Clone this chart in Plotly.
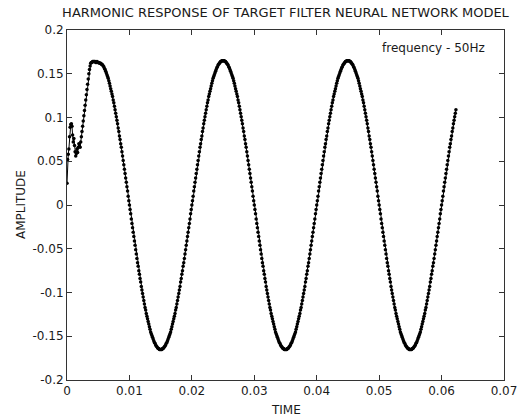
import plotly.graph_objects as go

# Sampling interval of the recorded response (seconds)
sample_interval = 1e-4

# Start-up transient of the network output (first 6.1 ms)
onset = [
    0.025, 0.052, 0.058, 0.064, 0.078, 0.089, 0.092, 0.093, 0.090, 0.080,
    0.072, 0.076, 0.068, 0.061, 0.056, 0.059, 0.064, 0.060, 0.066, 0.070,
    0.067, 0.066, 0.072, 0.078, 0.084, 0.090, 0.096, 0.102, 0.108, 0.114,
    0.120, 0.126, 0.132, 0.138, 0.144, 0.150, 0.155, 0.159, 0.162, 0.163,
    0.163, 0.164, 0.164, 0.164, 0.164, 0.164, 0.163, 0.163, 0.164, 0.163,
    0.163, 0.163, 0.162, 0.162, 0.162, 0.161, 0.161, 0.160, 0.159, 0.158,
    0.156,
]

# Steady-state 50 Hz output after the transient
steady = [
    # 6.1 ms - 10 ms
    0.155, 0.153, 0.151, 0.149, 0.147, 0.145, 0.142, 0.139, 0.136, 0.133,
    0.130, 0.127, 0.124, 0.120, 0.117, 0.113, 0.109, 0.105, 0.101, 0.097,
    0.093, 0.088, 0.084, 0.079, 0.075, 0.070, 0.066, 0.061, 0.056, 0.051,
    0.046, 0.041, 0.036, 0.031, 0.026, 0.021, 0.016, 0.010, 0.005, 0.000,
    # 10 ms - 20 ms
    -0.005, -0.010, -0.016, -0.021, -0.026, -0.031, -0.036, -0.041, -0.046, -0.051,
    -0.056, -0.061, -0.066, -0.070, -0.075, -0.079, -0.084, -0.088, -0.093, -0.097,
    -0.101, -0.105, -0.109, -0.113, -0.117, -0.120, -0.124, -0.127, -0.130, -0.133,
    -0.136, -0.139, -0.142, -0.145, -0.147, -0.149, -0.151, -0.153, -0.155, -0.157,
    -0.158, -0.160, -0.161, -0.162, -0.163, -0.164, -0.164, -0.165, -0.165, -0.165,
    -0.165, -0.165, -0.164, -0.164, -0.163, -0.162, -0.161, -0.160, -0.158, -0.157,
    -0.155, -0.153, -0.151, -0.149, -0.147, -0.145, -0.142, -0.139, -0.136, -0.133,
    -0.130, -0.127, -0.124, -0.120, -0.117, -0.113, -0.109, -0.105, -0.101, -0.097,
    -0.093, -0.088, -0.084, -0.079, -0.075, -0.070, -0.066, -0.061, -0.056, -0.051,
    -0.046, -0.041, -0.036, -0.031, -0.026, -0.021, -0.016, -0.010, -0.005,
    # 20 ms - 30 ms
    0.000, 0.005, 0.010, 0.016, 0.021, 0.026, 0.031, 0.036, 0.041, 0.046,
    0.051, 0.056, 0.061, 0.066, 0.070, 0.075, 0.079, 0.084, 0.088, 0.093,
    0.097, 0.101, 0.105, 0.109, 0.113, 0.117, 0.120, 0.124, 0.127, 0.130,
    0.133, 0.136, 0.139, 0.142, 0.145, 0.147, 0.149, 0.151, 0.153, 0.155,
    0.157, 0.158, 0.160, 0.161, 0.162, 0.163, 0.164, 0.164, 0.165, 0.165,
    0.165, 0.165, 0.165, 0.164, 0.164, 0.163, 0.162, 0.161, 0.160, 0.158,
    0.157, 0.155, 0.153, 0.151, 0.149, 0.147, 0.145, 0.142, 0.139, 0.136,
    0.133, 0.130, 0.127, 0.124, 0.120, 0.117, 0.113, 0.109, 0.105, 0.101,
    0.097, 0.093, 0.088, 0.084, 0.079, 0.075, 0.070, 0.066, 0.061, 0.056,
    0.051, 0.046, 0.041, 0.036, 0.031, 0.026, 0.021, 0.016, 0.010, 0.005,
    0.000,
    # 30 ms - 40 ms
    -0.005, -0.010, -0.016, -0.021, -0.026, -0.031, -0.036, -0.041, -0.046, -0.051,
    -0.056, -0.061, -0.066, -0.070, -0.075, -0.079, -0.084, -0.088, -0.093, -0.097,
    -0.101, -0.105, -0.109, -0.113, -0.117, -0.120, -0.124, -0.127, -0.130, -0.133,
    -0.136, -0.139, -0.142, -0.145, -0.147, -0.149, -0.151, -0.153, -0.155, -0.157,
    -0.158, -0.160, -0.161, -0.162, -0.163, -0.164, -0.164, -0.165, -0.165, -0.165,
    -0.165, -0.165, -0.164, -0.164, -0.163, -0.162, -0.161, -0.160, -0.158, -0.157,
    -0.155, -0.153, -0.151, -0.149, -0.147, -0.145, -0.142, -0.139, -0.136, -0.133,
    -0.130, -0.127, -0.124, -0.120, -0.117, -0.113, -0.109, -0.105, -0.101, -0.097,
    -0.093, -0.088, -0.084, -0.079, -0.075, -0.070, -0.066, -0.061, -0.056, -0.051,
    -0.046, -0.041, -0.036, -0.031, -0.026, -0.021, -0.016, -0.010, -0.005,
    # 40 ms - 50 ms
    0.000, 0.005, 0.010, 0.016, 0.021, 0.026, 0.031, 0.036, 0.041, 0.046,
    0.051, 0.056, 0.061, 0.066, 0.070, 0.075, 0.079, 0.084, 0.088, 0.093,
    0.097, 0.101, 0.105, 0.109, 0.113, 0.117, 0.120, 0.124, 0.127, 0.130,
    0.133, 0.136, 0.139, 0.142, 0.145, 0.147, 0.149, 0.151, 0.153, 0.155,
    0.157, 0.158, 0.160, 0.161, 0.162, 0.163, 0.164, 0.164, 0.165, 0.165,
    0.165, 0.165, 0.165, 0.164, 0.164, 0.163, 0.162, 0.161, 0.160, 0.158,
    0.157, 0.155, 0.153, 0.151, 0.149, 0.147, 0.145, 0.142, 0.139, 0.136,
    0.133, 0.130, 0.127, 0.124, 0.120, 0.117, 0.113, 0.109, 0.105, 0.101,
    0.097, 0.093, 0.088, 0.084, 0.079, 0.075, 0.070, 0.066, 0.061, 0.056,
    0.051, 0.046, 0.041, 0.036, 0.031, 0.026, 0.021, 0.016, 0.010, 0.005,
    0.000,
    # 50 ms - 60 ms
    -0.005, -0.010, -0.016, -0.021, -0.026, -0.031, -0.036, -0.041, -0.046, -0.051,
    -0.056, -0.061, -0.066, -0.070, -0.075, -0.079, -0.084, -0.088, -0.093, -0.097,
    -0.101, -0.105, -0.109, -0.113, -0.117, -0.120, -0.124, -0.127, -0.130, -0.133,
    -0.136, -0.139, -0.142, -0.145, -0.147, -0.149, -0.151, -0.153, -0.155, -0.157,
    -0.158, -0.160, -0.161, -0.162, -0.163, -0.164, -0.164, -0.165, -0.165, -0.165,
    -0.165, -0.165, -0.164, -0.164, -0.163, -0.162, -0.161, -0.160, -0.158, -0.157,
    -0.155, -0.153, -0.151, -0.149, -0.147, -0.145, -0.142, -0.139, -0.136, -0.133,
    -0.130, -0.127, -0.124, -0.120, -0.117, -0.113, -0.109, -0.105, -0.101, -0.097,
    -0.093, -0.088, -0.084, -0.079, -0.075, -0.070, -0.066, -0.061, -0.056, -0.051,
    -0.046, -0.041, -0.036, -0.031, -0.026, -0.021, -0.016, -0.010, -0.005,
    # 60 ms - 62.3 ms
    0.000, 0.005, 0.010, 0.016, 0.021, 0.026, 0.031, 0.036, 0.041, 0.046,
    0.051, 0.056, 0.061, 0.066, 0.070, 0.075, 0.079, 0.084, 0.088, 0.093,
    0.097, 0.101, 0.105, 0.109,
]

amplitude = onset + steady
time = [i * sample_interval for i in range(len(amplitude))]

x_ticks = [0, 0.01, 0.02, 0.03, 0.04, 0.05, 0.06, 0.07]
x_tick_text = ["0", "0.01", "0.02", "0.03", "0.04", "0.05", "0.06", "0.07"]
y_ticks = [-0.2, -0.15, -0.1, -0.05, 0, 0.05, 0.1, 0.15, 0.2]
y_tick_text = ["-0.2", "-0.15", "-0.1", "-0.05", "0", "0.05", "0.1", "0.15", "0.2"]

font_family = "DejaVu Sans, Verdana, sans-serif"
ink = "#1a1a1a"

fig = go.Figure()
fig.add_trace(go.Scatter(
    x=time,
    y=amplitude,
    mode="lines+markers",
    line=dict(color="black", width=1),
    marker=dict(symbol="circle", size=3.5, color="black"),
    showlegend=False,
    hoverinfo="skip",
))

axis_common = dict(
    showline=True,
    linecolor="#333333",
    linewidth=1,
    mirror="ticks",
    ticks="inside",
    ticklen=5,
    tickcolor="#333333",
    showgrid=False,
    zeroline=False,
    tickfont=dict(family=font_family, size=12, color=ink),
)

fig.update_layout(
    width=529,
    height=419,
    margin=dict(l=67, r=15, t=30, b=39),
    paper_bgcolor="white",
    plot_bgcolor="white",
    title=dict(
        text="HARMONIC RESPONSE OF TARGET FILTER NEURAL NETWORK MODEL",
        x=0.5, xref="paper", xanchor="center",
        y=1 - 12 / 419, yref="container", yanchor="middle",
        font=dict(family=font_family, size=13, color=ink),
    ),
    xaxis=dict(range=[0, 0.07], tickvals=x_ticks, ticktext=x_tick_text, **axis_common),
    yaxis=dict(range=[-0.2, 0.2], tickvals=y_ticks, ticktext=y_tick_text, **axis_common),
    annotations=[
        dict(text="frequency - 50Hz", xref="paper", yref="paper",
             x=(442 - 67) / 447, y=(380 - 48) / 350, xanchor="center", yanchor="middle",
             showarrow=False, font=dict(family=font_family, size=12, color=ink)),
        dict(text="AMPLITUDE", xref="paper", yref="paper",
             x=(20 - 67) / 447, y=0.5, xanchor="center", yanchor="middle", textangle=-90,
             showarrow=False, font=dict(family=font_family, size=12, color=ink)),
        dict(text="TIME", xref="paper", yref="paper",
             x=0.5, y=(380 - 410) / 350, xanchor="center", yanchor="middle",
             showarrow=False, font=dict(family=font_family, size=12, color=ink)),
    ],
)

fig.write_html("out.html")
